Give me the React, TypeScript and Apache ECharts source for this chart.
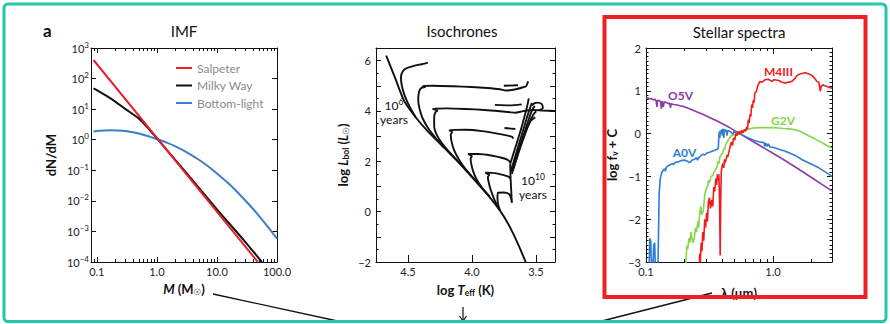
import React, { useEffect, useRef } from 'react';
import * as echarts from 'echarts';

const FONT = 'Lato, "Noto Sans", sans-serif';
const SYM = '"DejaVu Sans", sans-serif';
const INK = '#111';
const TEAL = '#22c8aa';
const RED_BOX = '#ee2025';

// ---------------- IMF panel ----------------
const imfNames = ['Salpeter', 'Milky Way', 'Bottom-light'];
const imfColors = ['#e3222b', '#111111', '#3b7fc9'];
const imfSalpeter = [[0.088, 405], [1.0, 1.14], [48, 0.0001]];
const imfMilkyWay = [[0.088, 48], [0.1, 42], [0.15, 26], [0.2, 18], [0.3, 10], [0.4, 6.8], [0.5, 4.9], [0.7, 2.5], [1.0, 1.1], [3, 0.088], [10, 0.0053], [30, 0.00044], [56, 0.0001]];
const imfBottomLight = [[0.088, 1.85], [0.1, 1.92], [0.13, 2.0], [0.17, 2.05], [0.22, 2.02], [0.3, 1.92], [0.4, 1.75], [0.5, 1.6], [0.7, 1.33], [1.0, 1.05], [1.5, 0.79], [2, 0.62], [3, 0.41], [5, 0.221], [7, 0.138], [10, 0.079], [15, 0.0397], [20, 0.0231], [30, 0.0101], [40, 0.00542], [50, 0.00325], [70, 0.00144], [100, 0.00058]];
const imfXMajor = [0.1, 1, 10, 100];
const imfXMinor = [0.09, 0.2, 0.3, 0.4, 0.5, 0.6, 0.7, 0.8, 0.9, 2, 3, 4, 5, 6, 7, 8, 9, 20, 30, 40, 50, 60, 70, 80, 90];
const imfYMajor = [0.0001, 0.001, 0.01, 0.1, 1, 10, 100, 1000];

// ---------------- Isochrones panel (logTeff, logL) ----------------
const isoMS = [[4.67, 6.2], [4.6, 5.3], [4.53, 4.4], [4.44, 3.75], [4.35, 3.22], [4.22, 2.55], [4.09, 1.89], [3.97, 1.2], [3.86, 0.57], [3.78, 0.04], [3.72, -0.45], [3.675, -0.89], [3.625, -1.45], [3.575, -2.05]];
const isoA = [[4.44, 3.75], [4.49, 4.2], [4.525, 4.6], [4.548, 5.0], [4.555, 5.35], [4.54, 5.58], [4.51, 5.7], [4.46, 5.78], [4.41, 5.84], [4.37, 5.88], [4.345, 5.92]];
const isoB = [[4.22, 2.55], [4.28, 2.9], [4.34, 3.3], [4.385, 3.7], [4.41, 4.1], [4.42, 4.45], [4.415, 4.72], [4.405, 4.86], [4.39, 4.93], [4.365, 4.95], [4.385, 4.99], [4.3, 5.0], [4.15, 4.98], [4.0, 4.95], [3.88, 4.91], [3.78, 4.86], [3.73, 4.81], [3.69, 4.83], [3.64, 4.88], [3.6, 4.94], [3.575, 4.99], [3.56, 5.18]];
const isoBspur = [[3.75, 5.0], [3.64, 5.02]];
const isoC = [[4.03, 1.55], [4.11, 2.0], [4.18, 2.38], [4.235, 2.72], [4.275, 3.05], [4.295, 3.4], [4.295, 3.75], [4.285, 3.95], [4.27, 4.02], [4.29, 4.05], [4.305, 4.08], [4.2, 4.1], [4.05, 4.08], [3.9, 4.04], [3.78, 3.99], [3.7, 3.95], [3.66, 3.93], [3.62, 3.97], [3.57, 4.02], [3.52, 4.04], [3.45, 4.02], [3.35, 4.0]];
const isoCspur = [[3.82, 4.24], [3.7, 4.22], [3.61, 4.26]];
const isoD = [[3.93, 1.0], [4.0, 1.4], [4.06, 1.76], [4.105, 2.1], [4.14, 2.45], [4.16, 2.8], [4.165, 3.05], [4.155, 3.16], [4.175, 3.24], [4.05, 3.25], [3.92, 3.2], [3.8, 3.1], [3.72, 3.02], [3.685, 2.97], [3.675, 2.9]];
const isoDspur = [[3.745, 3.32], [3.66, 3.28]];
const isoE = [[3.86, 0.6], [3.92, 0.95], [3.965, 1.3], [3.99, 1.6], [4.005, 1.9], [4.01, 2.12], [4.0, 2.2], [4.03, 2.29], [3.95, 2.29], [3.85, 2.23], [3.76, 2.13], [3.715, 2.04], [3.7, 1.95]];
const isoF = [[3.8, 0.2], [3.83, 0.55], [3.855, 0.9], [3.87, 1.2], [3.875, 1.38], [3.865, 1.46], [3.895, 1.55], [3.82, 1.53], [3.75, 1.45], [3.71, 1.38], [3.7, 1.32]];
const isoG = [[3.78, 0.04], [3.795, 0.3], [3.8, 0.55], [3.795, 0.75], [3.75, 0.76], [3.71, 0.7], [3.695, 0.55], [3.687, 0.35], [3.69, 0.6], [3.694, 1.0], [3.698, 1.4], [3.7, 1.9]];
const rgb1 = [[3.7, 1.9], [3.66, 2.55], [3.62, 3.2], [3.585, 3.85], [3.565, 4.25], [3.555, 4.5]];
const rgb2 = [[3.695, 1.6], [3.655, 2.3], [3.61, 3.05], [3.572, 3.7], [3.545, 4.12], [3.53, 4.32]];
const rgb3 = [[3.688, 1.5], [3.645, 2.2], [3.6, 2.95], [3.56, 3.6], [3.527, 4.05], [3.508, 4.2]];
const rgb4 = [[3.68, 1.65], [3.635, 2.35], [3.59, 3.0], [3.55, 3.55], [3.52, 3.85], [3.498, 3.98]];
const rgb5 = [[3.672, 1.95], [3.625, 2.6], [3.58, 3.2], [3.54, 3.6], [3.505, 3.75]];
const rgbTop = [[3.53, 4.22], [3.51, 4.31], [3.485, 4.33], [3.455, 4.28], [3.445, 4.12], [3.47, 4.03]];
const isochrones = [isoMS, isoA, isoB, isoBspur, isoC, isoCspur, isoD, isoDspur, isoE, isoF, isoG, rgb1, rgb2, rgb3, rgb4, rgb5, rgbTop];
const isoXTicks = [3.5, 4.0, 4.5];

// ---------------- Stellar spectra panel (lambda um, log f + C) ----------------
const specO5V = [[0.1, 0.82], [0.103, 0.84], [0.106, 0.81], [0.11, 0.82], [0.114, 0.79], [0.118, 0.8], [0.12, 0.77], [0.122, 0.62], [0.123, 0.78], [0.127, 0.77], [0.13, 0.75], [0.132, 0.58], [0.134, 0.76], [0.137, 0.62], [0.139, 0.74], [0.143, 0.73], [0.147, 0.72], [0.15, 0.7], [0.154, 0.71], [0.156, 0.6], [0.158, 0.7], [0.165, 0.68], [0.175, 0.67], [0.185, 0.65], [0.2, 0.63], [0.22, 0.58], [0.25, 0.51], [0.28, 0.45], [0.32, 0.37], [0.36, 0.3], [0.4, 0.23], [0.45, 0.15], [0.5, 0.07], [0.55, 0.0], [0.62, -0.1], [0.7, -0.19], [0.8, -0.29], [0.9, -0.38], [1.0, -0.46], [1.2, -0.6], [1.5, -0.78], [2.0, -1.02], [2.5, -1.21], [2.92, -1.34]];
const specA0V = [[0.104, -3.3], [0.106, -3.05], [0.107, -2.45], [0.109, -2.5], [0.111, -3.3], [0.113, -3.3], [0.115, -2.6], [0.117, -2.55], [0.119, -3.3], [0.124, -3.3], [0.126, -2.0], [0.127, -1.4], [0.129, -1.1], [0.131, -0.98], [0.134, -0.9], [0.137, -0.85], [0.14, -0.82], [0.142, -0.88], [0.145, -0.78], [0.15, -0.75], [0.155, -0.73], [0.16, -0.7], [0.165, -0.72], [0.17, -0.67], [0.18, -0.66], [0.19, -0.63], [0.2, -0.62], [0.21, -0.64], [0.22, -0.68], [0.225, -0.66], [0.23, -0.62], [0.24, -0.6], [0.25, -0.56], [0.255, -0.62], [0.26, -0.56], [0.27, -0.52], [0.28, -0.48], [0.29, -0.5], [0.3, -0.46], [0.32, -0.43], [0.34, -0.4], [0.36, -0.37], [0.368, -0.36], [0.372, -0.3], [0.375, -0.05], [0.378, 0.05], [0.382, -0.1], [0.385, 0.08], [0.39, 0.0], [0.395, 0.1], [0.4, -0.05], [0.405, 0.12], [0.41, -0.1], [0.415, 0.1], [0.42, 0.05], [0.43, 0.08], [0.434, -0.05], [0.44, 0.07], [0.46, 0.05], [0.486, -0.02], [0.49, 0.04], [0.52, 0.02], [0.55, 0.0], [0.6, -0.06], [0.64, -0.1], [0.7, -0.15], [0.75, -0.18], [0.8, -0.2], [0.85, -0.21], [0.86, -0.3], [0.88, -0.22], [0.9, -0.3], [0.92, -0.24], [0.95, -0.32], [1.0, -0.32], [1.1, -0.36], [1.25, -0.41], [1.5, -0.51], [1.7, -0.61], [2.0, -0.71], [2.3, -0.8], [2.6, -0.9], [2.92, -1.0]];
const specG2V = [[0.205, -3.3], [0.207, -2.9], [0.21, -2.62], [0.213, -2.7], [0.218, -2.45], [0.222, -2.55], [0.226, -2.3], [0.23, -2.45], [0.235, -2.55], [0.24, -2.45], [0.245, -2.2], [0.25, -2.3], [0.256, -2.05], [0.26, -2.2], [0.265, -1.85], [0.27, -1.7], [0.275, -1.9], [0.283, -1.8], [0.29, -1.45], [0.297, -1.3], [0.305, -1.25], [0.31, -1.1], [0.316, -1.15], [0.325, -1.0], [0.336, -0.98], [0.345, -0.88], [0.356, -0.83], [0.365, -0.75], [0.368, -0.65], [0.375, -0.7], [0.382, -0.55], [0.39, -0.52], [0.395, -0.45], [0.4, -0.48], [0.41, -0.35], [0.415, -0.38], [0.425, -0.25], [0.435, -0.2], [0.45, -0.12], [0.47, -0.05], [0.5, -0.02], [0.53, 0.02], [0.56, 0.06], [0.6, 0.09], [0.65, 0.11], [0.7, 0.13], [0.8, 0.14], [0.9, 0.14], [1.0, 0.14], [1.1, 0.13], [1.2, 0.12], [1.35, 0.11], [1.5, 0.09], [1.65, 0.05], [1.8, -0.01], [2.0, -0.08], [2.3, -0.17], [2.6, -0.26], [2.92, -0.34]];
const specM4III = [[0.262, -3.3], [0.265, -2.8], [0.268, -3.0], [0.272, -2.55], [0.276, -2.75], [0.28, -2.3], [0.285, -2.5], [0.29, -2.0], [0.295, -2.2], [0.3, -1.85], [0.305, -2.05], [0.31, -1.6], [0.316, -1.5], [0.322, -1.75], [0.33, -1.55], [0.336, -1.7], [0.342, -1.25], [0.348, -1.35], [0.355, -1.05], [0.36, -1.2], [0.365, -0.95], [0.37, -1.1], [0.375, -0.95], [0.38, -1.6], [0.384, -2.85], [0.388, -1.5], [0.392, -0.9], [0.398, -0.75], [0.403, -0.7], [0.41, -0.8], [0.415, -0.6], [0.42, -0.68], [0.428, -0.6], [0.435, -0.5], [0.44, -0.55], [0.454, -0.38], [0.46, -0.3], [0.47, -0.2], [0.48, -0.28], [0.49, -0.1], [0.5, -0.15], [0.51, 0.0], [0.52, -0.05], [0.53, 0.05], [0.54, -0.02], [0.55, 0.05], [0.56, 0.0], [0.57, 0.08], [0.58, 0.02], [0.6, 0.1], [0.61, 0.05], [0.62, 0.15], [0.63, 0.1], [0.64, 0.33], [0.65, 0.25], [0.66, 0.45], [0.67, 0.4], [0.68, 0.68], [0.69, 0.6], [0.7, 0.78], [0.71, 0.72], [0.72, 0.95], [0.74, 0.98], [0.76, 1.12], [0.79, 1.22], [0.82, 1.2], [0.87, 1.26], [0.92, 1.27], [0.98, 1.22], [1.02, 1.26], [1.11, 1.24], [1.18, 1.2], [1.25, 1.18], [1.32, 1.2], [1.41, 1.22], [1.5, 1.3], [1.55, 1.36], [1.65, 1.4], [1.8, 1.42], [1.9, 1.4], [2.03, 1.36], [2.12, 1.3], [2.22, 1.22], [2.3, 1.2], [2.36, 0.99], [2.4, 1.1], [2.47, 1.14], [2.55, 1.12], [2.66, 1.1], [2.8, 1.08], [2.92, 1.06]];
const specNames = ['O5V', 'A0V', 'G2V', 'M4III'];
const specColors = ['#8b3ca6', '#2f7dd2', '#84d64c', '#f21a1a'];
const specXMajor = [0.1, 1];
const specXMinor = [0.2, 0.3, 0.4, 0.5, 0.6, 0.7, 0.8, 0.9, 2];

const minus = (v: number) => (v < 0 ? '\u2212' + Math.abs(v) : String(v));

const lineStyleBlack = { color: INK, width: 1 };

function logXAxis(gridIndex: number, min: number, max: number, position: string, ticks: number[], len: number, showLine: boolean, labels?: number[], extra: any = {}) {
  return {
    type: 'log', logBase: 10, gridIndex, min, max, position,
    axisLine: { show: showLine, onZero: false, lineStyle: lineStyleBlack },
    axisTick: { show: true, inside: true, length: len, customValues: ticks, lineStyle: lineStyleBlack },
    axisLabel: labels
      ? { show: true, customValues: labels, margin: 4, fontSize: 11, color: '#222', fontFamily: FONT, formatter: (v: number) => v.toFixed(1) }
      : { show: false },
    splitLine: { show: false }, minorTick: { show: false }, minorSplitLine: { show: false },
    nameMoveOverlap: false,
    ...extra,
  };
}

const nameRich = {
  b: { fontWeight: 'bold', fontSize: 13, fontFamily: FONT, color: INK },
  i: { fontWeight: 'bold', fontStyle: 'italic', fontSize: 13, fontFamily: FONT, color: INK },
  sub: { fontWeight: 'bold', fontSize: 8.5, fontFamily: FONT, color: INK, padding: [6, 0, 0, 0] },
  sun: { fontWeight: 'bold', fontSize: 8.5, fontFamily: SYM, color: INK, padding: [6, 0, 0, 0] },
};
const nameStyle = { fontWeight: 'bold', fontSize: 13, fontFamily: FONT, color: INK, rich: nameRich };

function App() {
  const ref = useRef<HTMLDivElement>(null);
  useEffect(() => {
    if (!ref.current) return;
    const chart = echarts.init(ref.current, undefined, { renderer: 'svg' });

    const supRich = {
      b: { fontSize: 11, fontFamily: FONT, color: '#222' },
      s: { fontSize: 8, fontFamily: FONT, color: '#222', padding: [0, 0, 7, 0] },
    };

    const xAxis: any[] = [
      logXAxis(0, 0.08, 100, 'bottom', imfXMajor, 5, true, imfXMajor, {
        name: '{i|M} {b|(M}{sun|\u2609}{b|)}', nameLocation: 'middle', nameGap: 19, nameTextStyle: nameStyle,
      }),
      logXAxis(0, 0.08, 100, 'bottom', imfXMinor, 3, false),
      logXAxis(0, 0.08, 100, 'top', imfXMajor, 5, true),
      logXAxis(0, 0.08, 100, 'top', imfXMinor, 3, false),
      {
        type: 'value', gridIndex: 1, min: 3.35, max: 4.75, inverse: true, position: 'bottom',
        axisLine: { show: true, onZero: false, lineStyle: lineStyleBlack },
        axisTick: { show: true, inside: true, length: 7, customValues: isoXTicks, lineStyle: lineStyleBlack },
        axisLabel: { show: true, customValues: isoXTicks, margin: 4, fontSize: 11, color: '#222', fontFamily: FONT, formatter: (v: number) => v.toFixed(1) },
        splitLine: { show: false },
        name: '{b|log }{i|T}{sub|eff}{b| (K)}', nameLocation: 'middle', nameGap: 20, nameTextStyle: nameStyle, nameMoveOverlap: false,
      },
      {
        type: 'value', gridIndex: 1, min: 3.35, max: 4.75, inverse: true, position: 'top',
        axisLine: { show: true, onZero: false, lineStyle: lineStyleBlack },
        axisTick: { show: false }, axisLabel: { show: false }, splitLine: { show: false },
      },
      logXAxis(2, 0.1, 2.92, 'bottom', specXMajor, 6, true, specXMajor, {
        name: '\u03bb (\u03bcm)', nameLocation: 'middle', nameGap: 24, nameTextStyle: nameStyle,
      }),
      logXAxis(2, 0.1, 2.92, 'bottom', specXMinor, 3, false),
      logXAxis(2, 0.1, 2.92, 'top', specXMajor, 6, true),
      logXAxis(2, 0.1, 2.92, 'top', specXMinor, 3, false),
    ];

    const imfY = (position: string, labels: boolean) => ({
      type: 'log', logBase: 10, gridIndex: 0, min: 0.0001, max: 1000, position,
      axisLine: { show: true, onZero: false, lineStyle: lineStyleBlack },
      axisTick: { show: true, inside: true, length: 5, customValues: imfYMajor, lineStyle: lineStyleBlack },
      axisLabel: labels
        ? {
            show: true, customValues: imfYMajor, margin: 2,
            formatter: (v: number) => '{b|10}{s|' + minus(Math.round(Math.log10(v))) + '}',
            rich: supRich,
          }
        : { show: false },
      splitLine: { show: false },
      nameMoveOverlap: false,
      ...(labels ? { name: 'dN/dM', nameLocation: 'middle', nameRotate: 90, nameGap: 34, nameTextStyle: nameStyle } : {}),
    });

    const valY = (gridIndex: number, min: number, max: number, position: string, minorSplit: number, labels: boolean, evenOnly: boolean, name?: string, nameGap?: number) => ({
      type: 'value', gridIndex, min, max, interval: 1, position,
      axisLine: { show: true, onZero: false, lineStyle: lineStyleBlack },
      axisTick: { show: true, inside: true, length: 5, lineStyle: lineStyleBlack },
      minorTick: { show: true, splitNumber: minorSplit, length: 2.5, lineStyle: lineStyleBlack },
      axisLabel: labels
        ? {
            show: true, margin: 5, fontSize: 11, color: '#222', fontFamily: FONT,
            formatter: (v: number) => {
              if (Math.abs(v - Math.round(v)) > 1e-6) return '';
              if (evenOnly && Math.round(v) % 2 !== 0) return '';
              return minus(Math.round(v));
            },
          }
        : { show: false },
      splitLine: { show: false }, minorSplitLine: { show: false },
      nameMoveOverlap: false,
      ...(name ? { name, nameLocation: 'middle', nameRotate: 90, nameGap, nameTextStyle: nameStyle } : {}),
    });

    const yAxis: any[] = [
      imfY('left', true),
      imfY('right', false),
      valY(1, -2, 6.5, 'left', 2, true, true, '{b|log }{i|L}{sub|bol}{b| (}{i|L}{sun|\u2609}{b|)}', 26),
      valY(1, -2, 6.5, 'right', 2, false, true),
      valY(2, -3, 2, 'left', 10, true, false, '{b|log f}{sub|\u03bd}{b| + C}', 27),
      valY(2, -3, 2, 'right', 10, false, false),
    ];

    const line = (name: string | undefined, data: number[][], xi: number, yi: number, color: string, width: number, smooth: number | boolean = false) => ({
      type: 'line', name, data, xAxisIndex: xi, yAxisIndex: yi, symbol: 'none', showSymbol: false,
      color, itemStyle: { color }, lineStyle: { color, width }, smooth, clip: true, silent: true,
    });

    const series: any[] = [
      line(imfNames[2], imfBottomLight, 0, 0, imfColors[2], 2, 0.3),
      line(imfNames[1], imfMilkyWay, 0, 0, imfColors[1], 2, 0.3),
      line(imfNames[0], imfSalpeter, 0, 0, imfColors[0], 2),
      ...isochrones.map((d) => line(undefined, d, 4, 2, INK, 1.9, 0.2)),
      line(specNames[0], specO5V, 6, 4, specColors[0], 1.6),
      line(specNames[1], specA0V, 6, 4, specColors[1], 1.6),
      line(specNames[2], specG2V, 6, 4, specColors[2], 1.6),
      line(specNames[3], specM4III, 6, 4, specColors[3], 1.6),
    ];

    const text = (x: number, y: number, t: string, o: any = {}) => ({
      type: 'text', x, y, z: 60, silent: true,
      style: {
        text: t, fill: o.fill || INK, fontSize: o.size || 12, fontFamily: FONT, fontWeight: o.weight || 'normal',
        align: o.align || 'left', verticalAlign: 'middle', textAlign: o.align || 'left', textVerticalAlign: 'middle',
        rich: o.rich,
      },
    });
    const annRich = {
      b: { fontSize: 12, fontFamily: FONT, fill: INK, color: INK, lineHeight: 14 },
      s: { fontSize: 8.5, fontFamily: FONT, fill: INK, color: INK, padding: [0, 0, 6, 0] },
    };

    const graphic: any[] = [
      { type: 'line', z: 40, silent: true, shape: { x1: 213, y1: 294, x2: 342, y2: 322 }, style: { stroke: INK, lineWidth: 1.3 } },
      { type: 'line', z: 40, silent: true, shape: { x1: 598, y1: 322, x2: 712, y2: 293 }, style: { stroke: INK, lineWidth: 1.3 } },
      { type: 'line', z: 40, silent: true, shape: { x1: 463, y1: 307, x2: 463, y2: 321 }, style: { stroke: INK, lineWidth: 1.2 } },
      { type: 'polyline', z: 40, silent: true, shape: { points: [[459.5, 316], [463, 321], [466.5, 316]] }, style: { stroke: INK, lineWidth: 1.2, fill: 'none' } },
      { type: 'rect', z: 50, silent: true, shape: { x: 4, y: 4, width: 882, height: 317.5, r: 4 }, style: { fill: 'none', stroke: TEAL, lineWidth: 3 } },
      { type: 'rect', z: 55, silent: true, shape: { x: 604.5, y: 17, width: 261, height: 280 }, style: { fill: 'none', stroke: RED_BOX, lineWidth: 4 } },
      text(43, 30, 'a', { size: 17, weight: 'bold' }),
      text(184, 31, 'IMF', { size: 15, align: 'center' }),
      text(462, 31, 'Isochrones', { size: 15, align: 'center' }),
      text(739, 32, 'Stellar spectra', { size: 15, align: 'center' }),
      text(394, 112, '{b|10}{s|6}\n{b|years}', { rich: annRich, align: 'center' }),
      text(533, 187, '{b|10}{s|10}\n{b|years}', { rich: annRich, align: 'center' }),
      text(680.5, 95, specNames[0], { fill: specColors[0], weight: 'bold', size: 12, align: 'center' }),
      text(684.5, 152, specNames[1], { fill: specColors[1], weight: 'bold', size: 12, align: 'center' }),
      text(783, 120, specNames[2], { fill: specColors[2], weight: 'bold', size: 12, align: 'center' }),
      text(778.5, 71.5, specNames[3], { fill: specColors[3], weight: 'bold', size: 12, align: 'center' }),
    ];

    chart.setOption({
      animation: false,
      backgroundColor: '#ffffff',
      grid: [
        { left: 91, top: 48, width: 186, height: 214, outerBoundsMode: 'none', containLabel: false },
        { left: 376, top: 48, width: 179, height: 214, outerBoundsMode: 'none', containLabel: false },
        { left: 646, top: 48, width: 186, height: 214, outerBoundsMode: 'none', containLabel: false },
      ],
      legend: {
        data: imfNames, orient: 'vertical', left: 176, top: 62, itemWidth: 16, itemHeight: 2, itemGap: 5.5,
        icon: 'rect', selectedMode: false, padding: 0,
        textStyle: { color: '#8c8c8c', fontSize: 12, fontFamily: FONT },
      },
      xAxis, yAxis, series, graphic,
    });
    return () => chart.dispose();
  }, []);
  return <div ref={ref} style={{ position: 'absolute', left: 0, top: 0, width: 890, height: 324, background: '#fff' }} />;
}

export default App;
